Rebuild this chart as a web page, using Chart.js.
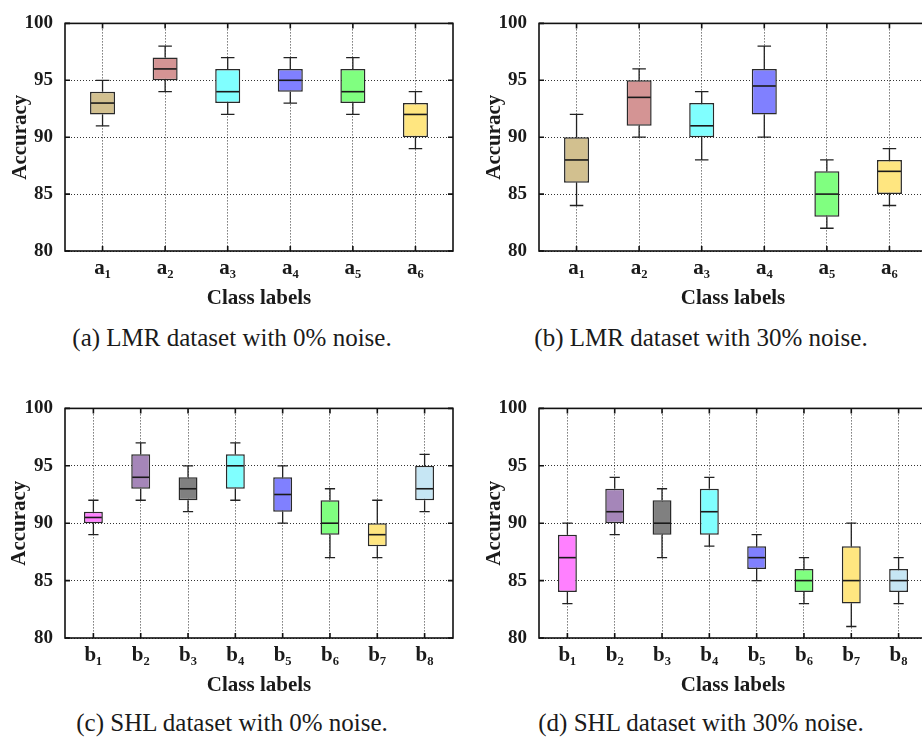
<!DOCTYPE html>
<html><head><meta charset="utf-8">
<script src="https://cdn.jsdelivr.net/npm/chart.js@4/dist/chart.umd.min.js"></script>
<style>
html,body{margin:0;padding:0;background:#fff;}
body{width:922px;height:738px;overflow:hidden;position:relative;}
.panel{position:absolute;}
.cap{position:absolute;font-family:'Liberation Serif',serif;font-size:25px;color:#1a1a1a;white-space:nowrap;transform:translate(-50%,-50%);}
</style></head><body>
<div class="panel" style="left:0;top:0"><canvas id="ca" width="461" height="320"></canvas></div>
<div class="panel" style="left:461px;top:0"><canvas id="cb" width="475" height="320"></canvas></div>
<div class="panel" style="left:0;top:385px"><canvas id="cc" width="461" height="320"></canvas></div>
<div class="panel" style="left:461px;top:385px"><canvas id="cd" width="475" height="320"></canvas></div>
<div class="cap" style="left:232px;top:338px">(a) LMR dataset with 0% noise.</div>
<div class="cap" style="left:701px;top:338px">(b) LMR dataset with 30% noise.</div>
<div class="cap" style="left:232px;top:723px">(c) SHL dataset with 0% noise.</div>
<div class="cap" style="left:701px;top:723px">(d) SHL dataset with 30% noise.</div>
<script>
// ---- data ----
const lmrLabels = ['a\u2081','a\u2082','a\u2083','a\u2084','a\u2085','a\u2086'];
const shlLabels = ['b\u2081','b\u2082','b\u2083','b\u2084','b\u2085','b\u2086','b\u2087','b\u2088'];
const yTickValues = [80, 85, 90, 95, 100];

const lmrColors = ['#d2c08f','#d49494','#80ffff','#8080ff','#80ff80','#ffe680'];
const shlColors = ['#ff80ff','#a586b9','#808080','#80ffff','#8080ff','#80ff80','#ffe680','#c6e6f4'];

const lmr0Min = [91, 94, 92, 93, 92, 89];
const lmr0Q1  = [92, 95, 93, 94, 93, 90];
const lmr0Med = [93, 96, 94, 95, 94, 92];
const lmr0Q3  = [94, 97, 96, 96, 96, 93];
const lmr0Max = [95, 98, 97, 97, 97, 94];

const lmr30Min = [84, 90, 88, 90, 82, 84];
const lmr30Q1  = [86, 91, 90, 92, 83, 85];
const lmr30Med = [88, 93.5, 91, 94.5, 85, 87];
const lmr30Q3  = [90, 95, 93, 96, 87, 88];
const lmr30Max = [92, 96, 94, 98, 88, 89];

const shl0Min = [89, 92, 91, 92, 90, 87, 87, 91];
const shl0Q1  = [90, 93, 92, 93, 91, 89, 88, 92];
const shl0Med = [90.5, 94, 93, 95, 92.5, 90, 89, 93];
const shl0Q3  = [91, 96, 94, 96, 94, 92, 90, 95];
const shl0Max = [92, 97, 95, 97, 95, 93, 92, 96];

const shl30Min = [83, 89, 87, 88, 85, 83, 81, 83];
const shl30Q1  = [84, 90, 89, 89, 86, 84, 83, 84];
const shl30Med = [87, 91, 90, 91, 87, 85, 85, 85];
const shl30Q3  = [89, 93, 92, 93, 88, 86, 88, 86];
const shl30Max = [90, 94, 93, 94, 89, 87, 90, 87];

// ---- drawing ----
const FONT = "'Liberation Serif', 'Times New Roman', serif";

const boxPlugin = {
  id: 'boxWhisk',
  afterDatasetsDraw(chart) {
    const ds = chart.data.datasets[0];
    const meta = chart.getDatasetMeta(0);
    const xs = chart.scales.x, ys = chart.scales.y;
    const ctx = chart.ctx;
    ctx.save();
    ds.data.forEach((d, i) => {
      const el = meta.data[i];
      const x = xs.getPixelForValue(d.x);
      const w = el.width;
      const cap = w * 0.27;
      const yMin = ys.getPixelForValue(ds.whiskerMin[i]);
      const yMax = ys.getPixelForValue(ds.whiskerMax[i]);
      const yQ1 = ys.getPixelForValue(d.y[0]);
      const yQ3 = ys.getPixelForValue(d.y[1]);
      const yMed = ys.getPixelForValue(ds.median[i]);
      ctx.strokeStyle = '#222';
      ctx.lineWidth = 1.3;
      ctx.beginPath();
      ctx.moveTo(x, yQ1); ctx.lineTo(x, yMin);
      ctx.moveTo(x, yQ3); ctx.lineTo(x, yMax);
      ctx.moveTo(x - cap, yMin); ctx.lineTo(x + cap, yMin);
      ctx.moveTo(x - cap, yMax); ctx.lineTo(x + cap, yMax);
      ctx.stroke();
      ctx.lineWidth = 1.6;
      ctx.strokeStyle = '#1a1a1a';
      ctx.beginPath();
      ctx.moveTo(x - w / 2 + 1, yMed); ctx.lineTo(x + w / 2 - 1, yMed);
      ctx.stroke();
    });
    ctx.restore();
  },
  afterDraw(chart) {
    const {left, right, top, bottom} = chart.chartArea;
    const ctx = chart.ctx;
    const xs = chart.scales.x, ys = chart.scales.y;
    ctx.save();
    ctx.strokeStyle = '#111';
    ctx.lineWidth = 1.6;
    ctx.strokeRect(left, top, right - left, bottom - top);
    ctx.beginPath();
    xs.ticks.forEach(t => {
      const x = xs.getPixelForValue(t.value);
      ctx.moveTo(x, bottom); ctx.lineTo(x, bottom - 5);
      ctx.moveTo(x, top); ctx.lineTo(x, top + 5);
    });
    ys.ticks.forEach(t => {
      const y = ys.getPixelForValue(t.value);
      ctx.moveTo(left, y); ctx.lineTo(left + 5, y);
      ctx.moveTo(right, y); ctx.lineTo(right - 5, y);
    });
    ctx.stroke();
    ctx.restore();
  }
};

function boxChart(id, labels, colors, mins, q1s, meds, q3s, maxs, geo) {
  const n = labels.length;
  return new Chart(document.getElementById(id), {
    type: 'bar',
    data: {
      datasets: [{
        data: labels.map((l, i) => ({x: i + 1, y: [q1s[i], q3s[i]]})),
        backgroundColor: colors,
        borderColor: '#2a2a2a',
        borderWidth: 1.5,
        borderSkipped: false,
        categoryPercentage: 1,
        barPercentage: 0.4,
        whiskerMin: mins,
        median: meds,
        whiskerMax: maxs
      }]
    },
    options: {
      responsive: false,
      animation: false,
      layout: {padding: {top: geo.top, right: geo.right, left: 0, bottom: 0}},
      plugins: {legend: {display: false}, tooltip: {enabled: false}},
      scales: {
        x: {
          type: 'linear', min: 0.4, max: n + 0.6, offset: false,
          afterBuildTicks: s => { s.ticks = labels.map((l, i) => ({value: i + 1})); },
          afterFit: s => { s.height = geo.xh; },
          ticks: {
            callback: v => labels[Math.round(v) - 1],
            font: {family: FONT, size: 21, weight: 'bold'},
            color: '#1a1a1a', padding: geo.xtp, maxRotation: 0, autoSkip: false
          },
          grid: {color: 'rgba(0,0,0,0.8)', lineWidth: 1, drawTicks: false, offset: false},
          border: {display: false, dash: [1, 2]},
          title: {display: true, text: 'Class labels', color: '#1a1a1a',
            font: {family: FONT, size: 21, weight: 'bold'}, padding: {top: 0, bottom: geo.xtb}}
        },
        y: {
          min: 80, max: 100,
          afterBuildTicks: s => { s.ticks = yTickValues.map(v => ({value: v})); },
          afterFit: s => { s.width = geo.yw; },
          ticks: {font: {family: FONT, size: 19, weight: 'bold'}, color: '#1a1a1a', padding: 12},
          grid: {color: 'rgba(0,0,0,0.8)', lineWidth: 1, drawTicks: false},
          border: {display: false, dash: [1, 2]},
          title: {display: true, text: 'Accuracy', color: '#1a1a1a',
            font: {family: FONT, size: 21, weight: 'bold'}, padding: {top: geo.ytp, bottom: 0}}
        }
      }
    },
    plugins: [boxPlugin]
  });
}

boxChart('ca', lmrLabels, lmrColors, lmr0Min, lmr0Q1, lmr0Med, lmr0Q3, lmr0Max,
  {top: 15, right: 8, xh: 69, yw: 65, ytp: 8, xtb: 9, xtp: 5});
boxChart('cb', lmrLabels, lmrColors, lmr30Min, lmr30Q1, lmr30Med, lmr30Q3, lmr30Max,
  {top: 15, right: 9, xh: 69, yw: 78, ytp: 21, xtb: 9, xtp: 5});
boxChart('cc', shlLabels, shlColors, shl0Min, shl0Q1, shl0Med, shl0Q3, shl0Max,
  {top: 17, right: 8, xh: 67, yw: 65, ytp: 7, xtb: 7, xtp: 5});
boxChart('cd', shlLabels, shlColors, shl30Min, shl30Q1, shl30Med, shl30Q3, shl30Max,
  {top: 17, right: 9, xh: 67, yw: 78, ytp: 21, xtb: 7, xtp: 5});
</script>
</body></html>
